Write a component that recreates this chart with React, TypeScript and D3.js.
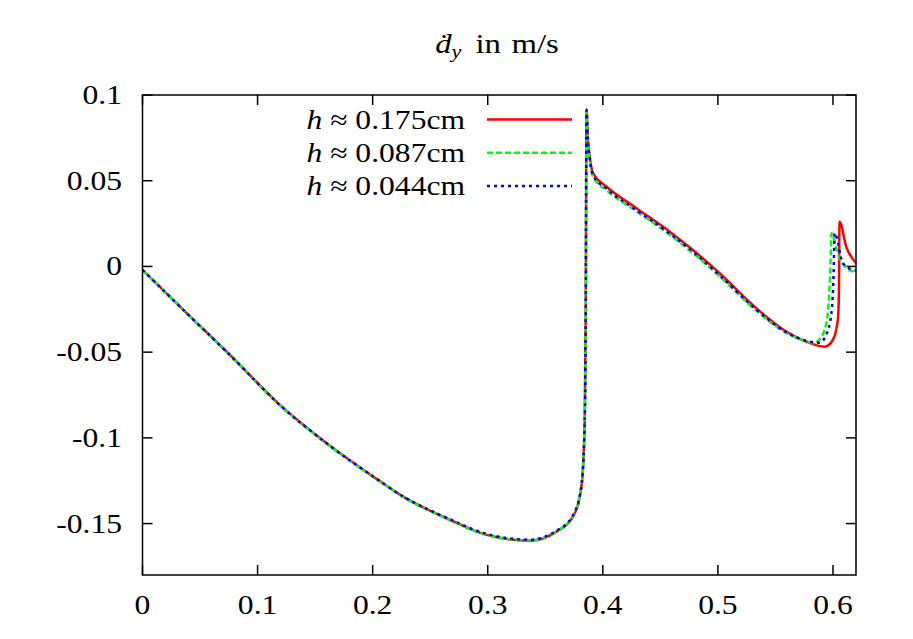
import React from "react";
import * as d3 from "d3";

// x in m (time-like coordinate), y = velocity in m/s
const h175: [number, number][] = [
  [0, -0.002], [0.0384, -0.0273], [0.076, -0.0516], [0.1194, -0.0808],
  [0.16, -0.1031], [0.2048, -0.1245], [0.2265, -0.1343], [0.2642, -0.1469],
  [0.2989, -0.1566], [0.3365, -0.16], [0.3597, -0.1547], [0.3741, -0.146],
  [0.3814, -0.1285], [0.3843, -0.0896], [0.3852, -0.02], [0.3858, 0.0917],
  [0.3871, 0.0738], [0.3886, 0.064], [0.3915, 0.0544], [0.4031, 0.0466],
  [0.4292, 0.034], [0.4581, 0.0203], [0.4783, 0.0096], [0.5015, -0.004],
  [0.5334, -0.0244], [0.5594, -0.038], [0.5768, -0.0439], [0.5927, -0.0468],
  [0.5999, -0.0429], [0.6042, -0.0312], [0.6051, -0.0176], [0.6057, 0.0261],
  [0.6115, 0.0116], [0.6202, 0.0019],
];

const h087: [number, number][] = [
  [0, -0.002], [0.0384, -0.0273], [0.076, -0.0518], [0.1194, -0.081],
  [0.16, -0.1033], [0.2048, -0.1247], [0.2265, -0.1345], [0.2642, -0.147],
  [0.2989, -0.1565], [0.3365, -0.1598], [0.3597, -0.1545], [0.3741, -0.1455],
  [0.3814, -0.128], [0.3843, -0.0896], [0.3852, -0.02], [0.3858, 0.0905],
  [0.3871, 0.072], [0.3886, 0.062], [0.3915, 0.0524], [0.4031, 0.0446],
  [0.4292, 0.0322], [0.4581, 0.0185], [0.4783, 0.0078], [0.5015, -0.0058],
  [0.5334, -0.0258], [0.5594, -0.0388], [0.5768, -0.0436], [0.5825, -0.0448],
  [0.59, -0.041], [0.595, -0.03], [0.5975, -0.005], [0.5988, 0.0194],
  [0.6034, 0.0097], [0.6063, 0.0038], [0.6189, -0.003], [0.6202, -0.003],
];

const h044: [number, number][] = [
  [0, -0.002], [0.0384, -0.0273], [0.076, -0.0517], [0.1194, -0.0809],
  [0.16, -0.1032], [0.2048, -0.1246], [0.2265, -0.1342], [0.2642, -0.1466],
  [0.2989, -0.156], [0.3365, -0.1594], [0.3597, -0.1542], [0.3741, -0.1452],
  [0.3814, -0.128], [0.3843, -0.0896], [0.3852, -0.02], [0.3858, 0.0912],
  [0.3871, 0.073], [0.3886, 0.063], [0.3915, 0.0532], [0.4031, 0.0454],
  [0.4292, 0.0328], [0.4581, 0.0192], [0.4783, 0.0085], [0.5015, -0.0052],
  [0.5334, -0.0252], [0.5594, -0.0384], [0.5768, -0.0434], [0.5883, -0.0445],
  [0.594, -0.04], [0.5985, -0.028], [0.6005, -0.005], [0.6014, 0.0194],
  [0.6086, 0.0019], [0.6173, -0.002], [0.6202, -0.0025],
];

const xTicks = [0, 0.1, 0.2, 0.3, 0.4, 0.5, 0.6];
const yTicks = [0.1, 0.05, 0, -0.05, -0.1, -0.15];
const legendLabels = ["0.175cm", "0.087cm", "0.044cm"];

const series = [
  { data: h175, color: "#ff0000", dash: "none" },
  { data: h087, color: "#00ff00", dash: "6,3" },
  { data: h044, color: "#0000ff", dash: "3,4" },
];

const W = 913;
const H = 639;
const margin = { left: 142.5, right: 57, top: 95, bottom: 64 };
const font = "'Liberation Serif', 'DejaVu Serif', serif";
const FS = 27;
const STRETCH = 1.17; // LaTeX fonts run wider than Liberation Serif

// text horizontally stretched around its anchor point
function Txt(props: { x: number; y: number; anchor: string; size?: number; children: React.ReactNode }) {
  return (
    <g transform={`translate(${props.x},${props.y}) scale(${STRETCH},1)`}>
      <text x={0} y={0} fontSize={props.size || FS} textAnchor={props.anchor}>
        {props.children}
      </text>
    </g>
  );
}

export default function App() {
  const x = d3.scaleLinear().domain([0, 0.62]).range([margin.left, W - margin.right]);
  const y = d3.scaleLinear().domain([-0.18, 0.1]).range([H - margin.bottom, margin.top]);

  const line = d3
    .line<[number, number]>()
    .x((d) => x(d[0]))
    .y((d) => y(d[1]))
    .curve(d3.curveMonotoneX);

  const x0 = x.range()[0], x1 = x.range()[1];
  const y0 = y.range()[0], y1 = y.range()[1];
  const tick = 10;

  return (
    <svg
      width={W}
      height={H}
      style={{ position: "absolute", left: 0, top: 0, background: "#fff" }}
      fontFamily={font}
    >
      <defs>
        <clipPath id="plot">
          <rect x={x0} y={y1} width={x1 - x0} height={y0 - y1} />
        </clipPath>
      </defs>

      {/* title */}
      <Txt x={497} y={53} anchor="middle" size={28}>
        <tspan fontStyle="italic">ḋ</tspan>
        <tspan fontStyle="italic" fontSize={19} dy={5}>y</tspan>
        <tspan dy={-5} dx={12}>in</tspan>
        <tspan dx={9}>m/s</tspan>
      </Txt>

      {/* ticks (mirrored) */}
      {xTicks.map((t) => (
        <g key={"x" + t}>
          <line x1={x(t)} x2={x(t)} y1={y0} y2={y0 - tick} stroke="#000" strokeWidth={1.5} />
          <line x1={x(t)} x2={x(t)} y1={y1} y2={y1 + tick} stroke="#000" strokeWidth={1.5} />
          <Txt x={x(t)} y={614} anchor="middle">{String(t)}</Txt>
        </g>
      ))}
      {yTicks.map((t) => (
        <g key={"y" + t}>
          <line x1={x0} x2={x0 + tick} y1={y(t)} y2={y(t)} stroke="#000" strokeWidth={1.5} />
          <line x1={x1} x2={x1 - tick} y1={y(t)} y2={y(t)} stroke="#000" strokeWidth={1.5} />
          <Txt x={122} y={y(t) + 9} anchor="end">{String(t)}</Txt>
        </g>
      ))}

      {/* curves */}
      <g clipPath="url(#plot)">
        {series.map((s, i) => (
          <path
            key={i}
            d={line(s.data) || ""}
            fill="none"
            stroke={s.color}
            strokeWidth={2.5}
            strokeDasharray={s.dash}
          />
        ))}
      </g>

      {/* legend */}
      {series.map((s, i) => {
        const ly = 119.5 + i * 33.3;
        return (
          <g key={"l" + i}>
            <Txt x={465} y={ly + 9} anchor="end">
              <tspan fontStyle="italic">h</tspan>
              <tspan> ≈ {legendLabels[i]}</tspan>
            </Txt>
            <line x1={487} x2={572} y1={ly} y2={ly} stroke={s.color} strokeWidth={2.5} strokeDasharray={s.dash} />
          </g>
        );
      })}

      {/* frame */}
      <rect x={x0} y={y1} width={x1 - x0} height={y0 - y1} fill="none" stroke="#000" strokeWidth={1.5} />
    </svg>
  );
}
